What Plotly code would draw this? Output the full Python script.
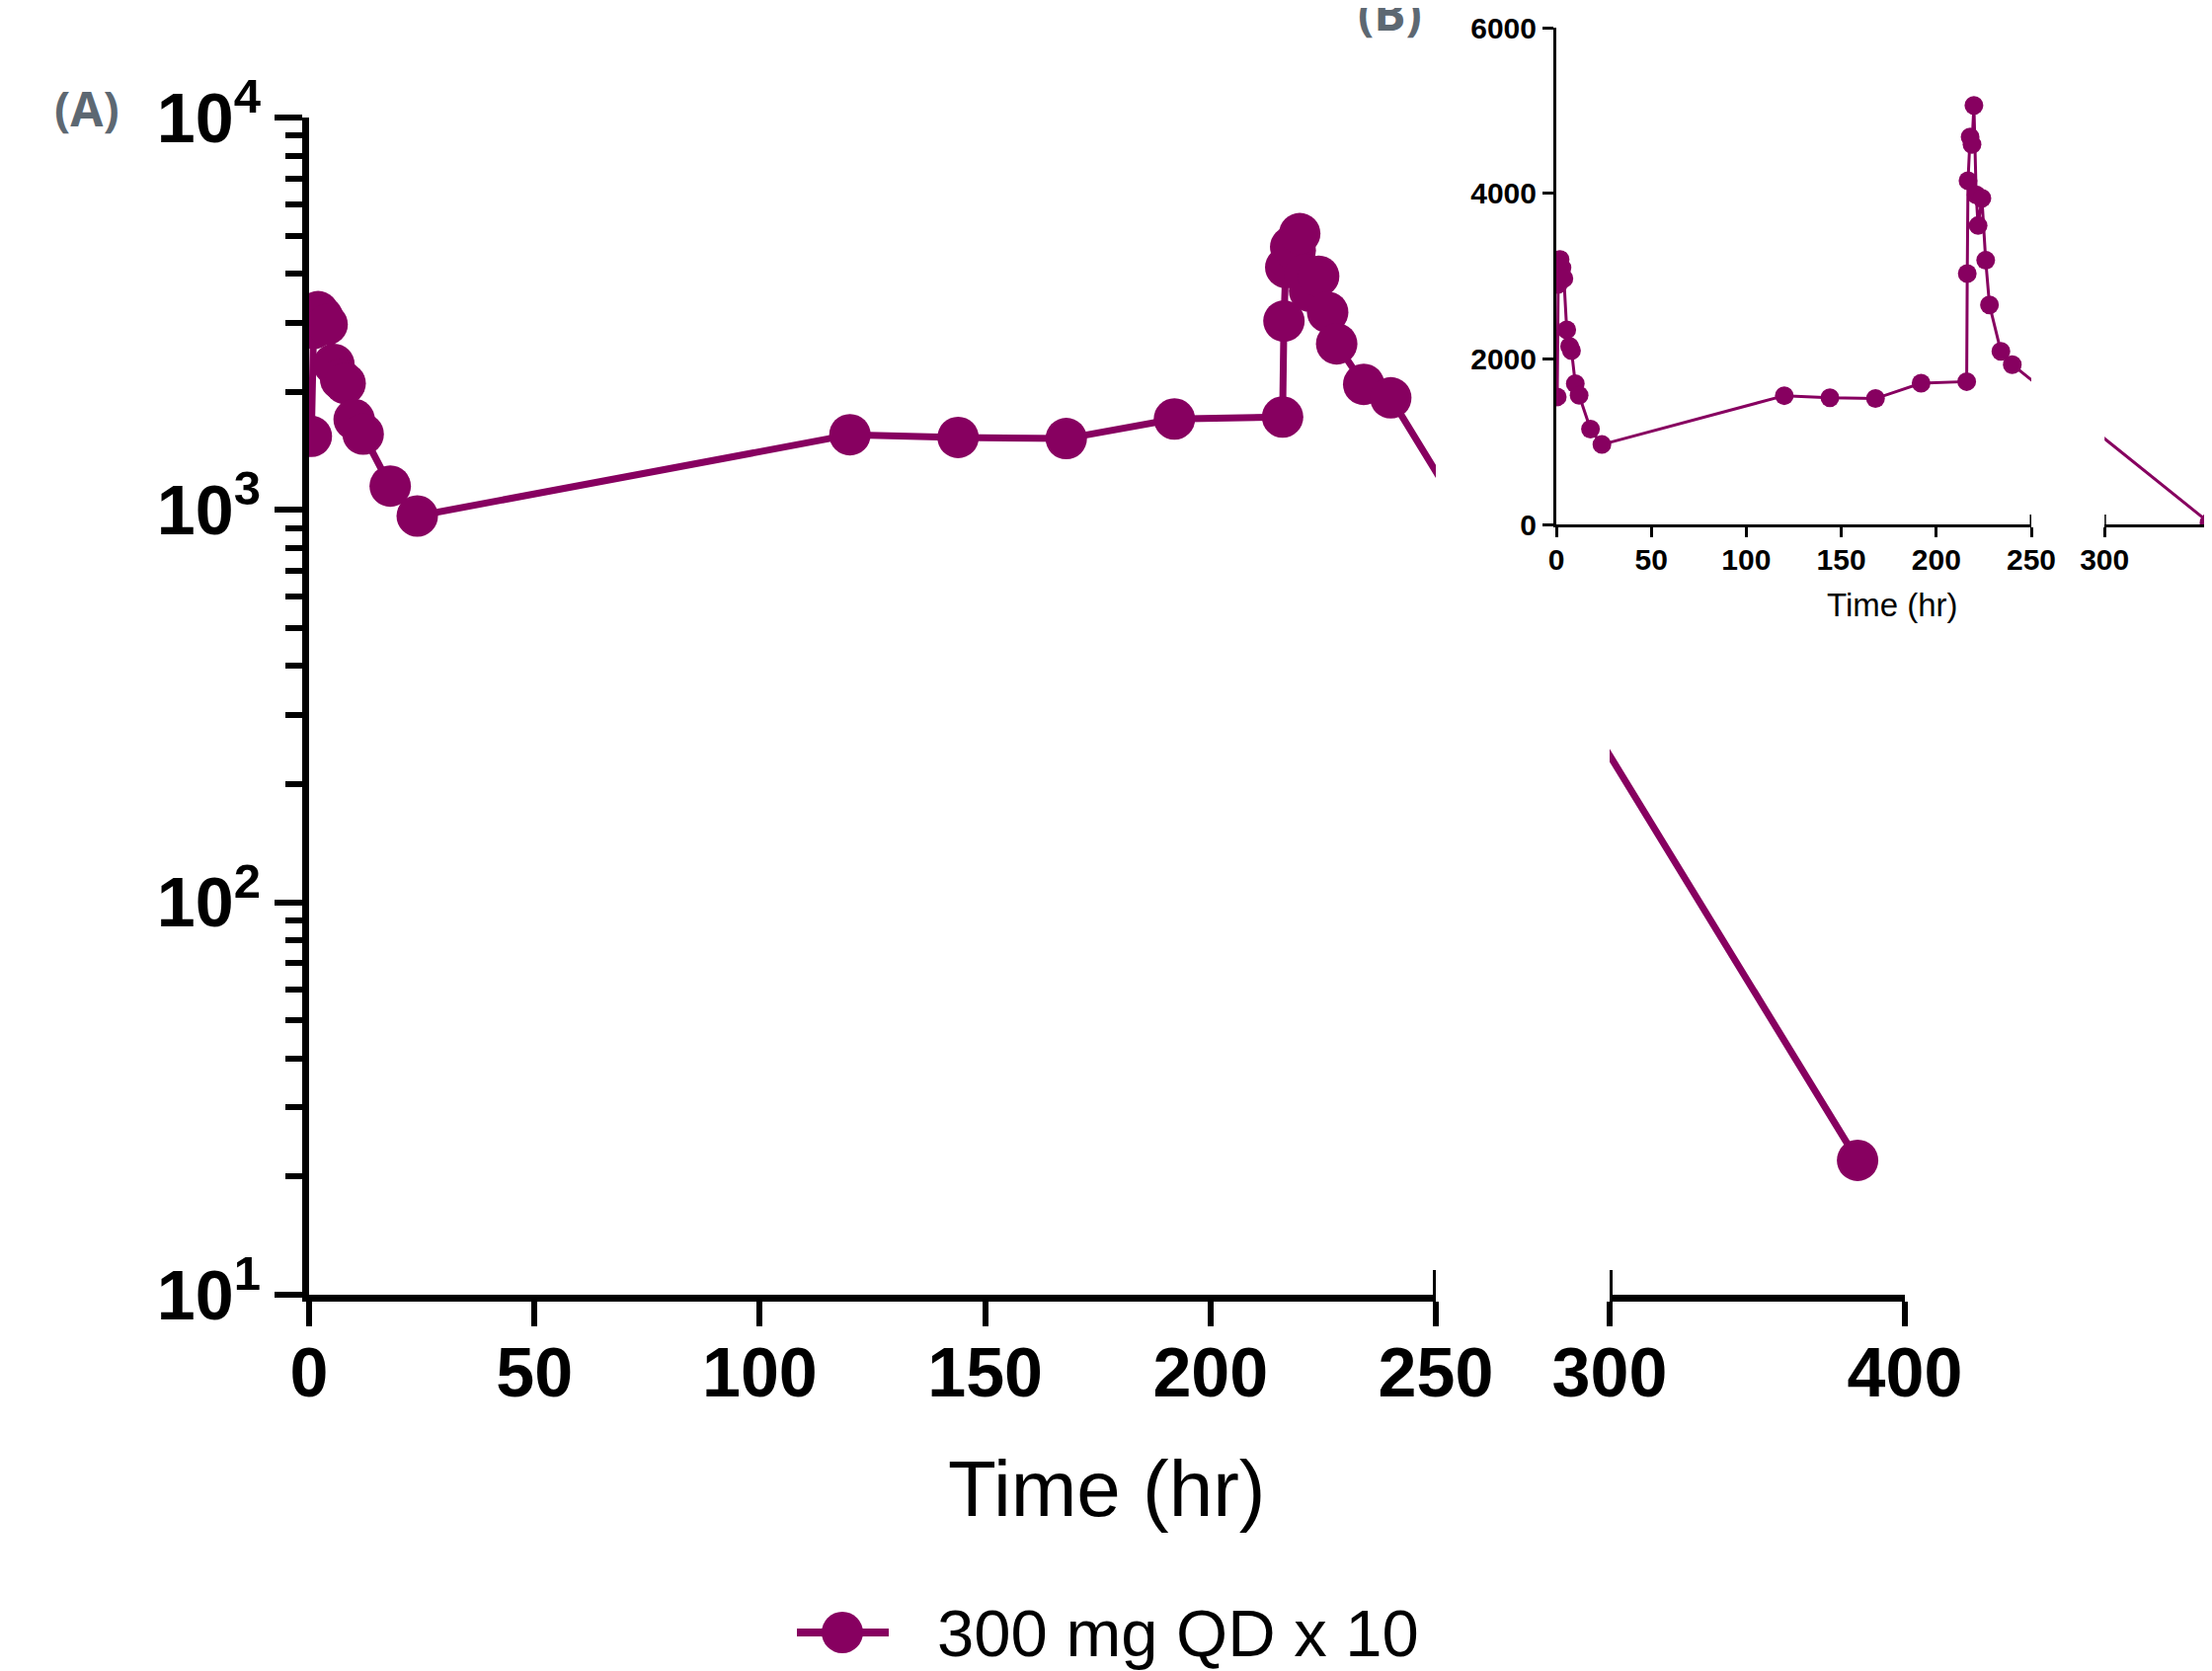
import plotly.graph_objects as go

# ---------------- data ----------------
time_hr = [0.5, 1, 2, 3, 4, 5.5, 7, 8, 10, 12, 18, 24,
           120, 144, 168, 192, 216, 216.3, 216.7, 217.8, 218.8, 219.8,
           221, 222, 224, 226, 228, 234, 240, 384]
conc = [1540, 2900, 3200, 3100, 2970, 2350, 2150, 2100, 1700, 1560, 1150, 965,
        1555, 1530, 1520, 1705, 1725, 3030, 4150, 4680, 4590, 5060,
        3980, 3610, 3940, 3190, 2650, 2090, 1930, 22]
series_name = "300 mg QD x 10"

x_ticks_seg1 = [0, 50, 100, 150, 200, 250]
x_ticks_seg2 = [300, 400]
y_log_ticks = [10, 100, 1000, 10000]
y_log_ticktext = ["10<sup>1</sup>", "10<sup>2</sup>", "10<sup>3</sup>", "10<sup>4</sup>"]
y_lin_ticks = [0, 2000, 4000, 6000]

# ---------------- layout constants ----------------
PAGE_W, PAGE_H = 2240, 1692
OFF = 8                      # default page body margin
W, H = PAGE_W - OFF, PAGE_H - OFF
PURPLE = "#870060"
GREY = "#5d6872"
FONT = "Liberation Sans"

# broken time axis: 0-250 | gap | 300-400 (second part compressed)
BREAK_LO, BREAK_HI = 250, 300
GAP_UNITS = 38.56
K2 = 0.655


def u(t):
    return t if t <= BREAK_LO else BREAK_LO + GAP_UNITS + (t - BREAK_HI) * K2


ut = [u(t) for t in time_hr]

# panel A geometry (page pixels)
A_X0, A_PPU = 313, 4.564
A_YTOP, A_YBOT = 119, 1311
# panel B geometry (page pixels)
B_X0, B_PPU = 1576, 1.924
B_YTOP, B_YBOT = 28, 531


def px(xp):
    return (xp - OFF) / W


def py(yp):
    return 1 - (yp - OFF) / H


eps = 1e-6
A1_dom = [px(A_X0), px(A_X0 + u(BREAK_LO) * A_PPU)]
A2_dom = [px(A_X0 + u(BREAK_HI) * A_PPU), px(A_X0 + u(400) * A_PPU)]
A_ydom = [py(A_YBOT), py(A_YTOP)]
B1_dom = [px(B_X0), px(B_X0 + u(BREAK_LO) * B_PPU)]
B2_dom = [px(B_X0 + u(BREAK_HI) * B_PPU), 1.0]
B2_end = (OFF + W - B_X0) / B_PPU
B_ydom = [py(B_YBOT), py(B_YTOP)]

fig = go.Figure()

for xa in ("x", "x3"):
    fig.add_trace(go.Scatter(
        x=ut, y=conc, xaxis=xa, yaxis="y", mode="lines+markers",
        name=series_name, showlegend=False,
        line=dict(color=PURPLE, width=7),
        marker=dict(color=PURPLE, size=42, line=dict(width=0)),
    ))
for xa in ("x2", "x4"):
    fig.add_trace(go.Scatter(
        x=ut, y=conc, xaxis=xa, yaxis="y2", mode="lines+markers",
        name=series_name, showlegend=False,
        line=dict(color=PURPLE, width=3),
        marker=dict(color=PURPLE, size=19, line=dict(width=0)),
    ))

big_tick = dict(family=FONT, size=70, color="black", weight="bold")
small_tick = dict(family=FONT, size=30, color="black", weight="bold")

common_x_A = dict(showgrid=False, zeroline=False, showline=True, linecolor="black",
                  linewidth=7, ticks="outside", ticklen=25, tickwidth=6,
                  tickcolor="black", tickfont=big_tick, tickmode="array",
                  automargin=False, ticklabelstandoff=-13)
common_x_B = dict(showgrid=False, zeroline=False, showline=True, linecolor="black",
                  linewidth=3, ticks="outside", ticklen=10, tickwidth=3,
                  tickcolor="black", tickfont=small_tick, tickmode="array",
                  automargin=False, ticklabelstandoff=-3)

minor_vals = [m * 10 ** e for e in (1, 2, 3) for m in range(2, 10)]

fig.update_layout(
    template="none",
    width=W, height=H,
    margin=dict(l=0, r=0, t=0, b=0, autoexpand=False),
    paper_bgcolor="white", plot_bgcolor="rgba(0,0,0,0)",
    xaxis=dict(domain=A1_dom, anchor="y", range=[-eps, u(BREAK_LO) + eps],
               tickvals=[u(v) for v in x_ticks_seg1],
               ticktext=[str(v) for v in x_ticks_seg1], **common_x_A),
    xaxis3=dict(domain=A2_dom, anchor="y", range=[u(BREAK_HI) - eps, u(400) + eps],
                tickvals=[u(v) for v in x_ticks_seg2],
                ticktext=[str(v) for v in x_ticks_seg2], **common_x_A),
    yaxis=dict(domain=A_ydom, anchor="x", type="log", range=[1 - eps, 4 + eps],
               tickmode="array", tickvals=y_log_ticks, ticktext=y_log_ticktext,
               showgrid=False, zeroline=False, showline=True, linecolor="black",
               linewidth=7, ticks="outside", ticklen=28, tickwidth=6,
               tickcolor="black", tickfont=big_tick, automargin=False,
               minor=dict(tickmode="array", tickvals=minor_vals, ticks="outside",
                          ticklen=17, tickwidth=6, tickcolor="black",
                          showgrid=False)),
    xaxis2=dict(domain=B1_dom, anchor="y2", range=[-eps, u(BREAK_LO) + eps],
                tickvals=[u(v) for v in x_ticks_seg1],
                ticktext=[str(v) for v in x_ticks_seg1], **common_x_B),
    xaxis4=dict(domain=B2_dom, anchor="y2", range=[u(BREAK_HI) - eps, B2_end],
                tickvals=[u(v) for v in x_ticks_seg2],
                ticktext=[str(v) for v in x_ticks_seg2], **common_x_B),
    yaxis2=dict(domain=B_ydom, anchor="x2", range=[0, 6000 + 1e-3],
                tickmode="array", tickvals=y_lin_ticks,
                ticktext=[str(v) for v in y_lin_ticks],
                showgrid=False, zeroline=False, showline=True, linecolor="black",
                linewidth=3, ticks="outside", ticklen=11, tickwidth=3,
                tickcolor="black", tickfont=small_tick, automargin=False),
)

shapes = []
# upward half of the cross ticks at the axis break
for xref, yref, val, h, w in (("x", "y domain", BREAK_LO, 25 / (A_YBOT - A_YTOP), 6),
                              ("x3", "y domain", BREAK_HI, 25 / (A_YBOT - A_YTOP), 6),
                              ("x2", "y2 domain", BREAK_LO, 10 / (B_YBOT - B_YTOP), 3),
                              ("x4", "y2 domain", BREAK_HI, 10 / (B_YBOT - B_YTOP), 3)):
    shapes.append(dict(type="line", xref=xref, yref=yref, x0=u(val), x1=u(val),
                       y0=0, y1=h, line=dict(color="black", width=w)))

# manual legend symbol (line + big circle)
LEG_Y = 1653
shapes.append(dict(type="line", xref="paper", yref="paper", x0=px(807), x1=px(900),
                   y0=py(LEG_Y), y1=py(LEG_Y), line=dict(color=PURPLE, width=8)))
shapes.append(dict(type="circle", xref="paper", yref="paper",
                   x0=px(853 - 21), x1=px(853 + 21), y0=py(LEG_Y + 21), y1=py(LEG_Y - 21),
                   fillcolor=PURPLE, line=dict(width=0)))
fig.update_layout(shapes=shapes)

ann = [
    dict(text="Time (hr)", x=px((A_X0 + A_X0 + u(400) * A_PPU) / 2), y=py(1507),
         xref="paper", yref="paper", showarrow=False, xanchor="center", yanchor="middle",
         font=dict(family=FONT, size=80, color="black")),
    dict(text="Time (hr)", x=px(1916), y=py(613),
         xref="paper", yref="paper", showarrow=False, xanchor="center", yanchor="middle",
         font=dict(family=FONT, size=33, color="black")),
    dict(text=series_name, x=px(947), y=py(LEG_Y), xref="paper", yref="paper",
         showarrow=False, xanchor="left", yanchor="middle",
         font=dict(family=FONT, size=67, color="black")),
    dict(text="(A)", x=px(88), y=py(110), xref="paper", yref="paper",
         showarrow=False, xanchor="center", yanchor="middle",
         font=dict(family="Open Sans", size=48, color=GREY, weight="bold")),
    dict(text="(B)", x=px(1407), y=py(13), xref="paper", yref="paper",
         showarrow=False, xanchor="center", yanchor="middle",
         font=dict(family="Open Sans", size=48, color=GREY, weight="bold")),
    dict(text="400", x=px(B_X0 + u(400) * B_PPU), y=py(566), xref="paper", yref="paper",
         showarrow=False, xanchor="center", yanchor="middle", font=small_tick),
]
fig.update_layout(annotations=ann)

fig.write_html("out.html")
